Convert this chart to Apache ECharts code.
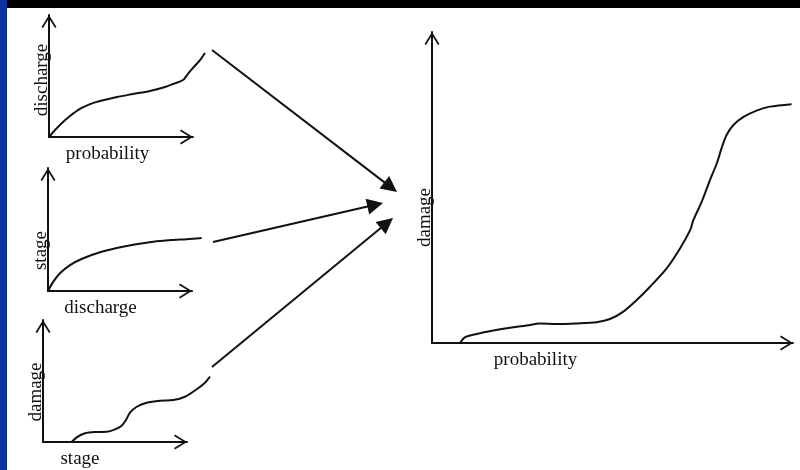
<!DOCTYPE html>
<html>
<head>
<meta charset="utf-8">
<script src="https://cdn.jsdelivr.net/npm/echarts@6/dist/echarts.min.js"></script>
<style>
  html, body { margin: 0; padding: 0; background: #fff; }
  #chart { width: 800px; height: 470px; }
</style>
</head>
<body>
<div id="chart"></div>
<script>
// sketched curves, [x, y] in percent of each little chart's axes
const probDischarge = [[0, 0], [4.2, 5.7], [9, 11.5], [14.6, 17.2], [21.5, 23], [28.5, 27], [35.4, 29.5], [47.2, 32.8], [58.3, 35.2], [70.1, 37.7], [80.6, 41], [86.1, 43.4], [93.1, 46.7], [95.8, 50.8], [100, 56.6], [104.9, 63.1], [108.3, 68.9]]
const dischargeStage = [[0, 0], [3.7, 7.6], [8.3, 14.4], [15.3, 21.1], [24.5, 26.6], [36.1, 31.5], [47.7, 35], [59.2, 37.6], [73.1, 40.1], [87, 41.5], [96.3, 42.1], [106.7, 43.1]]
const stageDamage = [[19.9, 0], [23.4, 3.8], [29.2, 7.1], [37.3, 8.2], [44.2, 8.4], [50, 10.4], [54.6, 13.4], [57.6, 18], [60.4, 24], [65.1, 28.9], [72, 32.2], [81.3, 33.9], [90.5, 34.4], [98.6, 37.1], [106.7, 43.2], [112.5, 48.6], [116, 53.5]]
const probDamage = [[7.8, 0], [9.1, 1.8], [12.4, 2.9], [17, 4], [21.6, 4.9], [26.2, 5.6], [29.9, 6.3], [34.5, 6.1], [40.1, 6.3], [45.6, 6.7], [49.3, 7.7], [53, 10.1], [56.7, 13.8], [60.4, 18.1], [65, 24], [68.7, 30.4], [71.5, 36.3], [72.4, 39.5], [74.7, 45.4], [77, 52.4], [78.9, 57.8], [80.2, 62.6], [81.6, 66.9], [83.5, 70.1], [86.2, 72.6], [89.9, 74.7], [93.6, 76], [99.6, 76.8]]

const xNames = ['probability', 'discharge', 'stage', 'probability']
const yNames = ['discharge', 'stage', 'damage', 'damage']

// connector arrows on the page (x, y from top-left): start and tip
const arrowLinks = [
  { from: [212, 50], to: [397, 192] },
  { from: [213, 242], to: [383, 203] },
  { from: [212, 367], to: [393, 218] }
]

const grids = [
  { left: 49, top: 15, width: 144, height: 122 },
  { left: 48, top: 168, width: 144, height: 123 },
  { left: 43, top: 320, width: 144, height: 122 },
  { left: 432, top: 32, width: 361, height: 311 }
]
const xNamePad = [27, 39, 70, 154]
const yNamePad = [8, 42, 22, 60]
// the small sketches run a bit past their x arrow
const overshoot = [1.25, 1.25, 1.25, 1]

const ink = '#111'
const font = 'Liberation Serif'
const chevron = 'path://M7.5,0 L15,12 L13.5,13 L7.5,3.2 L1.5,13 L0,12 Z'

function axisLine() {
  return {
    show: true,
    onZero: false,
    symbol: ['none', chevron],
    symbolSize: [15, 13],
    symbolOffset: [0, -6.5],
    lineStyle: { color: ink, width: 2 }
  }
}

function shorten(from, to, d) {
  const dx = to[0] - from[0]
  const dy = to[1] - from[1]
  const len = Math.sqrt(dx * dx + dy * dy)
  return [to[0] - dx / len * d, to[1] - dy / len * d]
}

const chart = echarts.init(document.getElementById('chart'))

const hidden = { axisLine: { show: false }, axisTick: { show: false }, axisLabel: { show: false }, splitLine: { show: false } }

// 0-3: visible axes, 4-7: wider grids carrying the curves, 8: page overlay
const xAxis = grids.map((g, i) => ({
  type: 'value', gridIndex: i, min: 0, max: 100,
  name: xNames[i], nameLocation: 'middle', nameGap: 8,
  nameTextStyle: { fontFamily: font, fontSize: 19, color: ink, padding: [0, xNamePad[i], 0, 0] },
  axisLine: axisLine(), axisTick: { show: false }, axisLabel: { show: false }, splitLine: { show: false }
}))
const yAxis = grids.map((g, i) => ({
  type: 'value', gridIndex: i, min: 0, max: 100,
  name: yNames[i], nameLocation: 'middle', nameGap: -3, nameRotate: 90,
  nameTextStyle: { fontFamily: font, fontSize: 19, color: ink, padding: [0, yNamePad[i], 0, 0] },
  axisLine: axisLine(), axisTick: { show: false }, axisLabel: { show: false }, splitLine: { show: false }
}))
grids.forEach((g, i) => {
  xAxis.push(Object.assign({ type: 'value', gridIndex: 4 + i, min: 0, max: 100 * overshoot[i] }, hidden))
  yAxis.push(Object.assign({ type: 'value', gridIndex: 4 + i, min: 0, max: 100 }, hidden))
})
xAxis.push({ type: 'value', gridIndex: 8, min: 0, max: 800, show: false })
yAxis.push({ type: 'value', gridIndex: 8, min: 0, max: 470, inverse: true, show: false })

const curveGrids = grids.map((g, i) => ({ left: g.left, top: g.top, width: g.width * overshoot[i], height: g.height }))

const curves = [probDischarge, dischargeStage, stageDamage, probDamage]

chart.setOption({
  animation: false,
  backgroundColor: '#fff',
  grid: grids.concat(curveGrids, [{ left: 0, top: 0, width: 800, height: 470 }]),
  xAxis: xAxis,
  yAxis: yAxis,
  graphic: [
    { type: 'rect', shape: { x: 0, y: 0, width: 800, height: 8 }, style: { fill: '#000' } },
    { type: 'rect', shape: { x: 0, y: 0, width: 7, height: 470 }, style: { fill: '#0a34a2' } }
  ],
  series: curves.map((d, i) => ({
    type: 'line',
    xAxisIndex: 4 + i,
    yAxisIndex: 4 + i,
    data: d,
    smooth: 0.3,
    showSymbol: false,
    clip: false,
    lineStyle: { color: ink, width: 2 }
  })).concat([{
    type: 'lines',
    coordinateSystem: 'cartesian2d',
    xAxisIndex: 8,
    yAxisIndex: 8,
    symbol: ['none', 'triangle'],
    symbolSize: [11, 16],
    lineStyle: { color: ink, width: 2, opacity: 1, curveness: 0 },
    data: arrowLinks.map(a => ({ coords: [a.from, shorten(a.from, a.to, 8)] }))
  }])
})
</script>
</body>
</html>
